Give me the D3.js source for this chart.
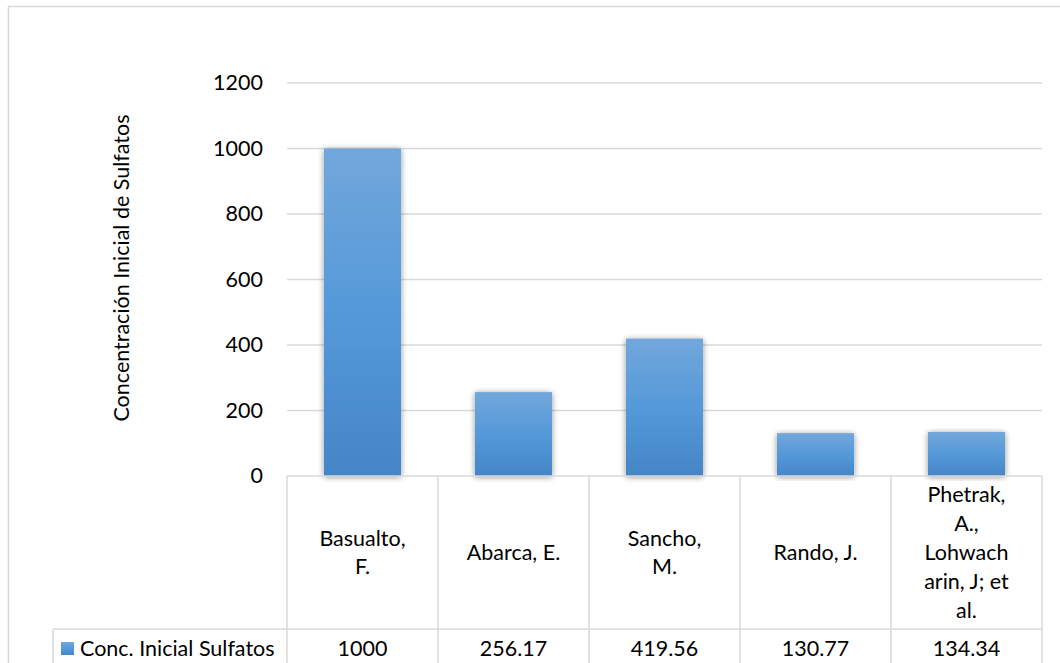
<!DOCTYPE html>
<html>
<head>
<meta charset="utf-8">
<script src="https://cdn.jsdelivr.net/npm/d3@7"></script>
<style>
  html, body { margin: 0; padding: 0; background: #fff; }
  svg { display: block; font-family: Lato, "Open Sans", sans-serif; }
</style>
</head>
<body>
<svg id="chart" width="1060" height="663"></svg>
<script>
// Study authors (table header) and the initial sulfate concentration each reports
const categories = ["Basualto, F.", "Abarca, E.", "Sancho, M.", "Rando, J.", "Phetrak, A., Lohwacharin, J; et al."];
const headerLines = [["Basualto,", "F."], ["Abarca, E."], ["Sancho,", "M."], ["Rando, J."], ["Phetrak,", "A.,", "Lohwach", "arin, J; et", "al."]];
const values = [1000, 256.17, 419.56, 130.77, 134.34];
const valueLabels = ["1000", "256.17", "419.56", "130.77", "134.34"];
const yTicks = [0, 200, 400, 600, 800, 1000, 1200];
const seriesName = "Conc. Inicial Sulfatos";
const yTitle = "Concentración Inicial de Sulfatos";

const svg = d3.select("#chart");
const grid = "#d9d9d9";
const textColor = "#000";
const fs = 21.5;

const plot = { left: 287, right: 1042, top: 83, bottom: 476 };
const tableHeaderBottom = 629;
const legendLeft = 53;

const x = d3.scaleBand().domain(categories).range([plot.left, plot.right]).paddingInner(0.49).paddingOuter(0.245);
const cell = d3.scaleBand().domain(categories).range([plot.left, plot.right]);
const y = d3.scaleLinear().domain([0, 1200]).range([plot.bottom, plot.top]);

// definitions: bar gradient and soft shadow
const defs = svg.append("defs");
const grad = defs.append("linearGradient").attr("id", "barGrad").attr("x1", 0).attr("y1", 0).attr("x2", 0).attr("y2", 1);
grad.append("stop").attr("offset", "0%").attr("stop-color", "#72a7db");
grad.append("stop").attr("offset", "50%").attr("stop-color", "#5599d9");
grad.append("stop").attr("offset", "100%").attr("stop-color", "#4585c6");
const shadow = defs.append("filter").attr("id", "shadow").attr("x", "-20%").attr("y", "-10%").attr("width", "140%").attr("height", "120%");
shadow.append("feGaussianBlur").attr("in", "SourceAlpha").attr("stdDeviation", 3).attr("result", "blur");
shadow.append("feOffset").attr("in", "blur").attr("dx", 0).attr("dy", 1).attr("result", "off");
shadow.append("feComponentTransfer").attr("in", "off").attr("result", "soft")
  .append("feFuncA").attr("type", "linear").attr("slope", 0.45);
const merge = shadow.append("feMerge");
merge.append("feMergeNode").attr("in", "soft");
merge.append("feMergeNode").attr("in", "SourceGraphic");

// outer chart frame
svg.append("rect").attr("x", 8.5).attr("y", 6.5).attr("width", 1060).attr("height", 700)
  .attr("fill", "#fff").attr("stroke", grid).attr("stroke-width", 1.5);

// horizontal gridlines and y tick labels
const yAxis = d3.axisLeft(y).tickValues(yTicks).tickFormat(d3.format("d")).tickSize(0).tickPadding(24);
const yg = svg.append("g").attr("transform", `translate(${plot.left},0)`).call(yAxis);
yg.select(".domain").remove();
yg.selectAll("text").attr("font-size", fs).attr("fill", textColor).attr("font-family", "Lato, sans-serif");
svg.append("g").selectAll("line").data(yTicks.filter(d => d > 0)).join("line")
  .attr("x1", plot.left).attr("x2", plot.right)
  .attr("y1", d => y(d)).attr("y2", d => y(d))
  .attr("stroke", grid).attr("stroke-width", 1.5);

// bars
svg.append("g").selectAll("rect").data(values).join("rect")
  .attr("x", (d, i) => x(categories[i]))
  .attr("y", d => y(d))
  .attr("width", x.bandwidth())
  .attr("height", d => y(0) - y(d))
  .attr("fill", "url(#barGrad)")
  .attr("filter", "url(#shadow)");

// data table grid
const tg = svg.append("g").attr("stroke", grid).attr("stroke-width", 1.5).attr("fill", "none");
tg.append("line").attr("x1", plot.left).attr("x2", plot.right).attr("y1", plot.bottom).attr("y2", plot.bottom);
tg.append("line").attr("x1", legendLeft).attr("x2", plot.right).attr("y1", tableHeaderBottom).attr("y2", tableHeaderBottom);
tg.append("line").attr("x1", legendLeft).attr("x2", legendLeft).attr("y1", tableHeaderBottom).attr("y2", 670);
tg.selectAll("line.v").data(categories.concat(["end"])).join("line").attr("class", "v")
  .attr("x1", (d, i) => i < categories.length ? cell(d) : plot.right)
  .attr("x2", (d, i) => i < categories.length ? cell(d) : plot.right)
  .attr("y1", plot.bottom).attr("y2", 670);

// category headers (wrapped, centred in each cell)
const lineH = 28.8;
const headerMid = (plot.bottom + tableHeaderBottom) / 2;
categories.forEach((c, i) => {
  const lines = headerLines[i];
  const cx = cell(c) + cell.bandwidth() / 2;
  const t = svg.append("text").attr("text-anchor", "middle").attr("font-size", fs).attr("fill", textColor);
  lines.forEach((ln, j) => {
    t.append("tspan").attr("x", cx)
      .attr("y", headerMid + (j - (lines.length - 1) / 2) * lineH)
      .attr("dy", "0.35em").text(ln);
  });
});

// value row
svg.append("g").selectAll("text").data(valueLabels).join("text")
  .attr("x", (d, i) => cell(categories[i]) + cell.bandwidth() / 2)
  .attr("y", 656)
  .attr("text-anchor", "middle").attr("font-size", fs).attr("fill", textColor)
  .text(d => d);

// legend key in the table's first cell
svg.append("rect").attr("x", 61).attr("y", 642).attr("width", 13).attr("height", 13).attr("fill", "url(#barGrad)");
svg.append("text").attr("x", 80).attr("y", 656).attr("font-size", fs).attr("fill", textColor).text(seriesName);

// y axis title
svg.append("text")
  .attr("transform", `translate(129,${268}) rotate(-90)`)
  .attr("text-anchor", "middle").attr("font-size", fs).attr("fill", textColor)
  .text(yTitle);
</script>
</body>
</html>
